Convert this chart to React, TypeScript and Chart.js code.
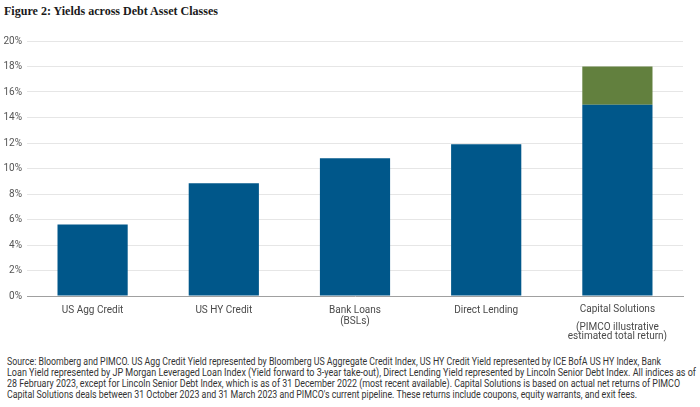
import React, { useEffect, useLayoutEffect, useRef } from 'react';
import { Chart, registerables } from 'chart.js';

Chart.register(...registerables);

// categories (multi-line labels as shown under each bar)
const categories: string[][] = [
  ['US Agg Credit'],
  ['US HY Credit'],
  ['Bank Loans', '(BSLs)'],
  ['Direct Lending'],
  ['Capital Solutions', '', '(PIMCO illustrative', 'estimated total return)'],
];

// yield in %
const yieldValues = [5.6, 8.85, 10.8, 11.9, 15];
// extra estimated return stacked on top (only Capital Solutions)
const upsideValues = [0, 0, 0, 0, 3];

const yMin = 0;
const yMax = 20;
const yStep = 2;

const title = 'Figure 2: Yields across Debt Asset Classes';

const sourceLines = [
  'Source: Bloomberg and PIMCO. US Agg Credit Yield represented by Bloomberg US Aggregate Credit Index, US HY Credit Yield represented by ICE BofA US HY Index, Bank',
  'Loan Yield represented by JP Morgan Leveraged Loan Index (Yield forward to 3-year take-out), Direct Lending Yield represented by Lincoln Senior Debt Index. All indices as of',
  '28 February 2023, except for Lincoln Senior Debt Index, which is as of 31 December 2022 (most recent available). Capital Solutions is based on actual net returns of PIMCO',
  "Capital Solutions deals between 31 October 2023 and 31 March 2023 and PIMCO's current pipeline. These returns include coupons, equity warrants, and exit fees.",
];
const sourceWidths = [654, 689, 673, 630];

const BLUE = '#00578a';
const GREEN = '#62803e';
const FONT = "'Liberation Sans Narrow', Roboto, sans-serif";

// squeeze a line of text to a given width (the original uses a condensed face)
const FitText: React.FC<{ text: string; width: number; style: React.CSSProperties }> = ({ text, width, style }) => {
  const ref = useRef<HTMLSpanElement | null>(null);
  useLayoutEffect(() => {
    const el = ref.current;
    if (!el) return;
    el.style.transform = 'none';
    const w = el.getBoundingClientRect().width;
    if (w > 0) el.style.transform = `scaleX(${width / w})`;
  }, [text, width]);
  return (
    <span ref={ref} style={{ ...style, position: 'absolute', whiteSpace: 'nowrap', transformOrigin: 'left top' }}>
      {text}
    </span>
  );
};

const YieldChart: React.FC = () => {
  const canvasRef = useRef<HTMLCanvasElement | null>(null);

  useEffect(() => {
    if (!canvasRef.current) return;
    const chart = new Chart(canvasRef.current, {
      type: 'bar',
      data: {
        labels: categories,
        datasets: [
          { data: yieldValues, backgroundColor: BLUE, borderWidth: 0 },
          { data: upsideValues, backgroundColor: GREEN, borderWidth: 0 },
        ],
      },
      options: {
        animation: false,
        responsive: true,
        maintainAspectRatio: false,
        layout: { padding: { top: 10, right: 17, left: 0, bottom: 0 } },
        datasets: { bar: { categoryPercentage: 1, barPercentage: 0.535 } },
        plugins: { legend: { display: false }, tooltip: { enabled: false } },
        scales: {
          x: {
            stacked: true,
            grid: { display: false, drawTicks: false },
            border: { display: true, color: '#a0a0a0', dash: [1, 1], width: 1 },
            ticks: {
              color: '#4a4a4a',
              padding: 9,
              maxRotation: 0,
              autoSkip: false,
              font: (ctx: any) => ({ family: FONT, size: 10, lineHeight: ctx.index === 4 ? '9px' : '11px' }),
            },
            afterFit: (scale: any) => {
              scale.height = 54;
            },
          },
          y: {
            stacked: true,
            min: yMin,
            max: yMax,
            grid: {
              drawTicks: false,
              color: (ctx: any) => (ctx.tick && ctx.tick.value === 0 ? 'rgba(0,0,0,0)' : '#e6e6e6'),
            },
            border: { display: false },
            ticks: {
              stepSize: yStep,
              color: '#555',
              padding: 5,
              font: { family: FONT, size: 10 },
              callback: (v: any) => `${v}%`,
            },
            afterFit: (scale: any) => {
              scale.width = 27;
            },
          },
        },
      },
    });
    return () => chart.destroy();
  }, []);

  return <canvas ref={canvasRef}></canvas>;
};

export default function App() {
  return (
    <div style={{ position: 'fixed', left: 0, top: 0, width: 700, height: 407, background: '#fff', overflow: 'hidden' }}>
      <FitText
        text={title}
        width={214}
        style={{ left: 4, top: 3, fontFamily: "'Liberation Serif', serif", fontWeight: 'bold', fontSize: 13.5, lineHeight: '16px', color: '#1a1a1a' }}
      />
      <div style={{ position: 'absolute', left: 0, top: 30, width: 700, height: 320 }}>
        <YieldChart />
      </div>
      {sourceLines.map((line, i) => (
        <FitText
          key={i}
          text={line}
          width={sourceWidths[i]}
          style={{ left: 7, top: 356 + i * 11, fontFamily: FONT, fontSize: 10, lineHeight: '11px', color: '#333' }}
        />
      ))}
    </div>
  );
}
